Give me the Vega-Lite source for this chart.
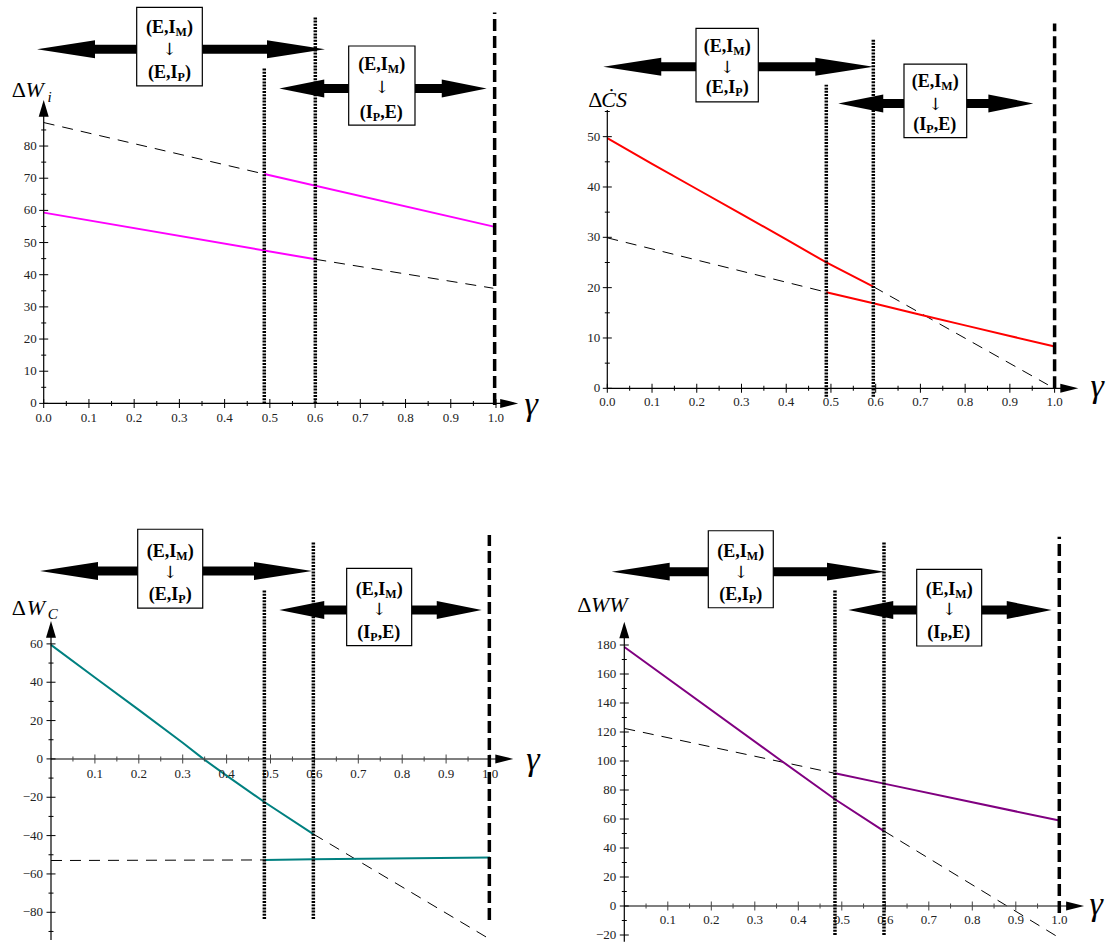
{
"$schema": "https://vega.github.io/schema/vega-lite/v6.json",
"padding": 0,
"background": "white",
"columns": 2,
"spacing": 0,
"bounds": "flush",
"config": {"view": {"stroke": null}},
"datasets": {
"p1": [
{"part":"curve","branch":"A","regime":"hypothetical","g":0,"v":87.3},
{"part":"curve","branch":"A","regime":"hypothetical","g":0.4877,"v":71.3},
{"part":"curve","branch":"A","regime":"equilibrium","g":0.4877,"v":71.3},
{"part":"curve","branch":"A","regime":"equilibrium","g":1.0,"v":54.8},
{"part":"curve","branch":"B","regime":"equilibrium","g":0,"v":59.3},
{"part":"curve","branch":"B","regime":"equilibrium","g":0.6005,"v":44.8},
{"part":"curve","branch":"B","regime":"hypothetical","g":0.6005,"v":44.8},
{"part":"curve","branch":"B","regime":"hypothetical","g":0.994,"v":35.8},
{"part":"threshold","kind":"dotted","g":0.4877,"v":0,"v2":104.2},
{"part":"threshold","kind":"dotted","g":0.6005,"v":0,"v2":120.0},
{"part":"threshold","kind":"dashed","g":0.997,"v":-0.5,"v2":121.5},
{"part":"xaxis","g":0,"g2":1.04,"v":0},
{"part":"yaxis","g":0,"v":0,"v2":93},
{"part":"head","head":"XA","g":1.049,"v":0},
{"part":"head","head":"YA","g":0,"v":94.3},
{"part":"head","head":"UL","g":-0.0148,"v":110.1},
{"part":"head","head":"UR","g":0.6219,"v":110.1},
{"part":"head","head":"LL","g":0.5209,"v":97.9},
{"part":"head","head":"LR","g":0.9794,"v":97.9},
{"part":"shaft","g":0.0814,"g2":0.5258,"v":110.1},
{"part":"shaft","g":0.596,"g2":0.9043,"v":97.9},
{"part":"box","g":0.2056,"g2":0.3507,"v":123.1,"v2":98.7},
{"part":"box","g":0.6743,"g2":0.8209,"v":111.1,"v2":86.5},
{"part":"boxline","g":0.2914,"v":116.6,"pre":"(E,I","sub":"M","post":")"},
{"part":"boxline","g":0.2958,"v":102.6,"pre":"(E,I","sub":"P","post":")"},
{"part":"boxline","g":0.7609,"v":105.2,"pre":"(E,I","sub":"M","post":")"},
{"part":"boxline","g":0.7277,"v":90.2,"pre":"(I","sub":"P","post":",E)"},
{"part":"boxarrow","g":0.2781,"v":109.9},
{"part":"boxarrow","g":0.7476,"v":97.9},
{"part":"ylab","role":"delta","t":"Δ","g":-0.0708,"v":97.4},
{"part":"ylab","role":"main","t":"W","g":-0.0405,"v":97.4},
{"part":"ylab","role":"sub","t":"i","g":0.0085,"v":95.4},
{"part":"gamma","t":"γ","g":1.078,"v":-0.5},
{"part":"xt","g":0,"v":0,"m":1},{"part":"xt","g":0.1,"v":0,"m":1},{"part":"xt","g":0.2,"v":0,"m":1},{"part":"xt","g":0.3,"v":0,"m":1},{"part":"xt","g":0.4,"v":0,"m":1},{"part":"xt","g":0.5,"v":0,"m":1},{"part":"xt","g":0.6,"v":0,"m":1},{"part":"xt","g":0.7,"v":0,"m":1},{"part":"xt","g":0.8,"v":0,"m":1},{"part":"xt","g":0.9,"v":0,"m":1},{"part":"xt","g":1.0,"v":0,"m":1},
{"part":"xt","g":0.05,"v":0,"m":0},{"part":"xt","g":0.15,"v":0,"m":0},{"part":"xt","g":0.25,"v":0,"m":0},{"part":"xt","g":0.35,"v":0,"m":0},{"part":"xt","g":0.45,"v":0,"m":0},{"part":"xt","g":0.55,"v":0,"m":0},{"part":"xt","g":0.65,"v":0,"m":0},{"part":"xt","g":0.75,"v":0,"m":0},{"part":"xt","g":0.85,"v":0,"m":0},{"part":"xt","g":0.95,"v":0,"m":0},
{"part":"yt","g":0,"v":0,"m":1},{"part":"yt","g":0,"v":10,"m":1},{"part":"yt","g":0,"v":20,"m":1},{"part":"yt","g":0,"v":30,"m":1},{"part":"yt","g":0,"v":40,"m":1},{"part":"yt","g":0,"v":50,"m":1},{"part":"yt","g":0,"v":60,"m":1},{"part":"yt","g":0,"v":70,"m":1},{"part":"yt","g":0,"v":80,"m":1},
{"part":"yt","g":0,"v":5,"m":0},{"part":"yt","g":0,"v":15,"m":0},{"part":"yt","g":0,"v":25,"m":0},{"part":"yt","g":0,"v":35,"m":0},{"part":"yt","g":0,"v":45,"m":0},{"part":"yt","g":0,"v":55,"m":0},{"part":"yt","g":0,"v":65,"m":0},{"part":"yt","g":0,"v":75,"m":0},{"part":"yt","g":0,"v":85,"m":0}
],
"p2": [
{"part":"curve","branch":"A","regime":"equilibrium","g":0,"v":49.7},
{"part":"curve","branch":"A","regime":"equilibrium","g":0.1,"v":44.6},
{"part":"curve","branch":"A","regime":"equilibrium","g":0.2,"v":39.6},
{"part":"curve","branch":"A","regime":"equilibrium","g":0.3,"v":34.6},
{"part":"curve","branch":"A","regime":"equilibrium","g":0.4,"v":29.6},
{"part":"curve","branch":"A","regime":"equilibrium","g":0.4896,"v":25.0},
{"part":"curve","branch":"A","regime":"equilibrium","g":0.5947,"v":20.2},
{"part":"curve","branch":"A","regime":"hypothetical","g":0.5947,"v":20.2},
{"part":"curve","branch":"A","regime":"hypothetical","g":0.985,"v":0.7},
{"part":"curve","branch":"B","regime":"hypothetical","g":0,"v":29.9},
{"part":"curve","branch":"B","regime":"hypothetical","g":0.4896,"v":19.1},
{"part":"curve","branch":"B","regime":"equilibrium","g":0.4896,"v":19.1},
{"part":"curve","branch":"B","regime":"equilibrium","g":0.5947,"v":16.9},
{"part":"curve","branch":"B","regime":"equilibrium","g":0.7,"v":14.6},
{"part":"curve","branch":"B","regime":"equilibrium","g":0.8,"v":12.5},
{"part":"curve","branch":"B","regime":"equilibrium","g":0.9,"v":10.4},
{"part":"curve","branch":"B","regime":"equilibrium","g":1.0,"v":8.3},
{"part":"threshold","kind":"dotted","g":0.4896,"v":-1.7,"v2":60.3},
{"part":"threshold","kind":"dotted","g":0.5947,"v":-1.7,"v2":69.5},
{"part":"threshold","kind":"dashed","g":1.0,"v":0,"v2":72.5},
{"part":"xaxis","g":0,"g2":1.044,"v":0},
{"part":"yaxis","g":0,"v":0,"v2":55.3},
{"part":"head","head":"XA","g":1.053,"v":0},
{"part":"head","head":"UL","g":-0.009,"v":63.9},
{"part":"head","head":"UR","g":0.5947,"v":63.9},
{"part":"head","head":"LL","g":0.5164,"v":56.6},
{"part":"head","head":"LR","g":0.9524,"v":56.6},
{"part":"shaft","g":0.0883,"g2":0.4974,"v":63.9},
{"part":"shaft","g":0.5924,"g2":0.8764,"v":56.6},
{"part":"box","g":0.1983,"g2":0.3376,"v":71.5,"v2":56.9},
{"part":"box","g":0.6633,"g2":0.8035,"v":64.4,"v2":49.8},
{"part":"boxline","g":0.2814,"v":67.9,"pre":"(E,I","sub":"M","post":")"},
{"part":"boxline","g":0.2859,"v":59.6,"pre":"(E,I","sub":"P","post":")"},
{"part":"boxline","g":0.7468,"v":60.9,"pre":"(E,I","sub":"M","post":")"},
{"part":"boxline","g":0.7133,"v":52.3,"pre":"(I","sub":"P","post":",E)"},
{"part":"boxarrow","g":0.268,"v":63.6},
{"part":"boxarrow","g":0.7334,"v":56.3},
{"part":"ylab","role":"delta","t":"Δ","g":-0.0425,"v":57.3},
{"part":"ylab","role":"main","t":"ĊS","g":-0.0135,"v":57.3},
{"part":"gamma","t":"γ","g":1.095,"v":0.3},
{"part":"xt","g":0,"v":0,"m":1},{"part":"xt","g":0.1,"v":0,"m":1},{"part":"xt","g":0.2,"v":0,"m":1},{"part":"xt","g":0.3,"v":0,"m":1},{"part":"xt","g":0.4,"v":0,"m":1},{"part":"xt","g":0.5,"v":0,"m":1},{"part":"xt","g":0.6,"v":0,"m":1},{"part":"xt","g":0.7,"v":0,"m":1},{"part":"xt","g":0.8,"v":0,"m":1},{"part":"xt","g":0.9,"v":0,"m":1},{"part":"xt","g":1.0,"v":0,"m":1},
{"part":"xt","g":0.05,"v":0,"m":0},{"part":"xt","g":0.15,"v":0,"m":0},{"part":"xt","g":0.25,"v":0,"m":0},{"part":"xt","g":0.35,"v":0,"m":0},{"part":"xt","g":0.45,"v":0,"m":0},{"part":"xt","g":0.55,"v":0,"m":0},{"part":"xt","g":0.65,"v":0,"m":0},{"part":"xt","g":0.75,"v":0,"m":0},{"part":"xt","g":0.85,"v":0,"m":0},{"part":"xt","g":0.95,"v":0,"m":0},
{"part":"yt","g":0,"v":0,"m":1},{"part":"yt","g":0,"v":10,"m":1},{"part":"yt","g":0,"v":20,"m":1},{"part":"yt","g":0,"v":30,"m":1},{"part":"yt","g":0,"v":40,"m":1},{"part":"yt","g":0,"v":50,"m":1},
{"part":"yt","g":0,"v":5,"m":0},{"part":"yt","g":0,"v":15,"m":0},{"part":"yt","g":0,"v":25,"m":0},{"part":"yt","g":0,"v":35,"m":0},{"part":"yt","g":0,"v":45,"m":0},{"part":"yt","g":0,"v":55,"m":0}
],
"p3": [
{"part":"curve","branch":"A","regime":"equilibrium","g":0,"v":59.5},
{"part":"curve","branch":"A","regime":"equilibrium","g":0.1,"v":42.5},
{"part":"curve","branch":"A","regime":"equilibrium","g":0.2,"v":25.6},
{"part":"curve","branch":"A","regime":"equilibrium","g":0.3,"v":8.4},
{"part":"curve","branch":"A","regime":"equilibrium","g":0.347,"v":0},
{"part":"curve","branch":"A","regime":"equilibrium","g":0.4,"v":-8.7},
{"part":"curve","branch":"A","regime":"equilibrium","g":0.486,"v":-22.5},
{"part":"curve","branch":"A","regime":"equilibrium","g":0.5976,"v":-39.2},
{"part":"curve","branch":"A","regime":"hypothetical","g":0.5976,"v":-39.2},
{"part":"curve","branch":"A","regime":"hypothetical","g":1.003,"v":-94.5},
{"part":"curve","branch":"B","regime":"hypothetical","g":0,"v":-53.0},
{"part":"curve","branch":"B","regime":"hypothetical","g":0.486,"v":-52.7},
{"part":"curve","branch":"B","regime":"equilibrium","g":0.486,"v":-52.7},
{"part":"curve","branch":"B","regime":"equilibrium","g":0.5976,"v":-52.3},
{"part":"curve","branch":"B","regime":"equilibrium","g":1.0,"v":-51.4},
{"part":"threshold","kind":"dotted","g":0.486,"v":-83.5,"v2":88.1},
{"part":"threshold","kind":"dotted","g":0.5976,"v":-83.5,"v2":113.1},
{"part":"threshold","kind":"dashed","g":0.9985,"v":-84,"v2":116.8},
{"part":"xaxis","g":0,"g2":1.044,"v":0},
{"part":"yaxis","g":0,"v":-94.5,"v2":70},
{"part":"head","head":"XA","g":1.053,"v":0},
{"part":"head","head":"YA","g":0,"v":71.9},
{"part":"head","head":"UL","g":-0.0251,"v":98.0},
{"part":"head","head":"UR","g":0.5945,"v":98.0},
{"part":"head","head":"LL","g":0.5201,"v":77.7},
{"part":"head","head":"LR","g":0.9811,"v":77.7},
{"part":"shaft","g":0.074,"g2":0.4954,"v":98.0},
{"part":"shaft","g":0.5975,"g2":0.9036,"v":77.7},
{"part":"box","g":0.1975,"g2":0.3456,"v":119.8,"v2":78.6},
{"part":"box","g":0.6735,"g2":0.8216,"v":99.4,"v2":59.1},
{"part":"boxline","g":0.2852,"v":108.1,"pre":"(E,I","sub":"M","post":")"},
{"part":"boxline","g":0.2897,"v":85.5,"pre":"(E,I","sub":"P","post":")"},
{"part":"boxline","g":0.7613,"v":88.1,"pre":"(E,I","sub":"M","post":")"},
{"part":"boxline","g":0.7271,"v":65.5,"pre":"(I","sub":"P","post":",E)"},
{"part":"boxarrow","g":0.2715,"v":96.8},
{"part":"boxarrow","g":0.7476,"v":77.7},
{"part":"ylab","role":"delta","t":"Δ","g":-0.0895,"v":78.6},
{"part":"ylab","role":"main","t":"W","g":-0.0555,"v":78.6},
{"part":"ylab","role":"sub","t":"C","g":-0.0075,"v":75.4},
{"part":"gamma","t":"γ","g":1.098,"v":-0.6},
{"part":"xt","g":0.1,"v":0,"m":1},{"part":"xt","g":0.2,"v":0,"m":1},{"part":"xt","g":0.3,"v":0,"m":1},{"part":"xt","g":0.4,"v":0,"m":1},{"part":"xt","g":0.5,"v":0,"m":1},{"part":"xt","g":0.6,"v":0,"m":1},{"part":"xt","g":0.7,"v":0,"m":1},{"part":"xt","g":0.8,"v":0,"m":1},{"part":"xt","g":0.9,"v":0,"m":1},{"part":"xt","g":1.0,"v":0,"m":1},
{"part":"xt","g":0.05,"v":0,"m":0},{"part":"xt","g":0.15,"v":0,"m":0},{"part":"xt","g":0.25,"v":0,"m":0},{"part":"xt","g":0.35,"v":0,"m":0},{"part":"xt","g":0.45,"v":0,"m":0},{"part":"xt","g":0.55,"v":0,"m":0},{"part":"xt","g":0.65,"v":0,"m":0},{"part":"xt","g":0.75,"v":0,"m":0},{"part":"xt","g":0.85,"v":0,"m":0},{"part":"xt","g":0.95,"v":0,"m":0},
{"part":"yt","g":0,"v":-80,"m":1},{"part":"yt","g":0,"v":-60,"m":1},{"part":"yt","g":0,"v":-40,"m":1},{"part":"yt","g":0,"v":-20,"m":1},{"part":"yt","g":0,"v":0,"m":1},{"part":"yt","g":0,"v":20,"m":1},{"part":"yt","g":0,"v":40,"m":1},{"part":"yt","g":0,"v":60,"m":1},
{"part":"yt","g":0,"v":-90,"m":0},{"part":"yt","g":0,"v":-70,"m":0},{"part":"yt","g":0,"v":-50,"m":0},{"part":"yt","g":0,"v":-30,"m":0},{"part":"yt","g":0,"v":-10,"m":0},{"part":"yt","g":0,"v":10,"m":0},{"part":"yt","g":0,"v":30,"m":0},{"part":"yt","g":0,"v":50,"m":0}
],
"p4": [
{"part":"curve","branch":"A","regime":"equilibrium","g":0,"v":178.6},
{"part":"curve","branch":"A","regime":"equilibrium","g":0.3617,"v":100},
{"part":"curve","branch":"A","regime":"equilibrium","g":0.4843,"v":73.6},
{"part":"curve","branch":"A","regime":"equilibrium","g":0.597,"v":51.7},
{"part":"curve","branch":"A","regime":"hypothetical","g":0.597,"v":51.7},
{"part":"curve","branch":"A","regime":"hypothetical","g":1.003,"v":-22.5},
{"part":"curve","branch":"B","regime":"hypothetical","g":0,"v":122.5},
{"part":"curve","branch":"B","regime":"hypothetical","g":0.4843,"v":91.5},
{"part":"curve","branch":"B","regime":"equilibrium","g":0.4843,"v":91.5},
{"part":"curve","branch":"B","regime":"equilibrium","g":0.597,"v":84.4},
{"part":"curve","branch":"B","regime":"equilibrium","g":1.0,"v":58.9},
{"part":"threshold","kind":"dotted","g":0.4843,"v":-20,"v2":217.9},
{"part":"threshold","kind":"dotted","g":0.597,"v":-20,"v2":251.2},
{"part":"threshold","kind":"dashed","g":1.0,"v":-4.8,"v2":254.7},
{"part":"xaxis","g":0,"g2":1.048,"v":0},
{"part":"yaxis","g":0,"v":-24.6,"v2":194},
{"part":"head","head":"XA","g":1.057,"v":0},
{"part":"head","head":"YA","g":0,"v":196.1},
{"part":"head","head":"UL","g":-0.029,"v":230.6},
{"part":"head","head":"UR","g":0.5993,"v":230.6},
{"part":"head","head":"LL","g":0.5149,"v":204.1},
{"part":"head","head":"LR","g":0.9825,"v":204.1},
{"part":"shaft","g":0.071,"g2":0.4993,"v":230.6},
{"part":"shaft","g":0.5931,"g2":0.9044,"v":204.1},
{"part":"box","g":0.1931,"g2":0.3425,"v":258.8,"v2":205.7},
{"part":"box","g":0.6722,"g2":0.8216,"v":232.2,"v2":179.3},
{"part":"boxline","g":0.2816,"v":244.4,"pre":"(E,I","sub":"M","post":")"},
{"part":"boxline","g":0.2862,"v":214.5,"pre":"(E,I","sub":"P","post":")"},
{"part":"boxline","g":0.7607,"v":217.9,"pre":"(E,I","sub":"M","post":")"},
{"part":"boxline","g":0.7262,"v":188.1,"pre":"(I","sub":"P","post":",E)"},
{"part":"boxarrow","g":0.2678,"v":229.4},
{"part":"boxarrow","g":0.7469,"v":204.1},
{"part":"ylab","role":"delta","t":"Δ","g":-0.108,"v":207.6},
{"part":"ylab","role":"main","t":"WW","g":-0.0765,"v":207.6},
{"part":"gamma","t":"γ","g":1.085,"v":0.5},
{"part":"xt","g":0.1,"v":0,"m":1},{"part":"xt","g":0.2,"v":0,"m":1},{"part":"xt","g":0.3,"v":0,"m":1},{"part":"xt","g":0.4,"v":0,"m":1},{"part":"xt","g":0.5,"v":0,"m":1},{"part":"xt","g":0.6,"v":0,"m":1},{"part":"xt","g":0.7,"v":0,"m":1},{"part":"xt","g":0.8,"v":0,"m":1},{"part":"xt","g":0.9,"v":0,"m":1},{"part":"xt","g":1.0,"v":0,"m":1},
{"part":"xt","g":0.05,"v":0,"m":0},{"part":"xt","g":0.15,"v":0,"m":0},{"part":"xt","g":0.25,"v":0,"m":0},{"part":"xt","g":0.35,"v":0,"m":0},{"part":"xt","g":0.45,"v":0,"m":0},{"part":"xt","g":0.55,"v":0,"m":0},{"part":"xt","g":0.65,"v":0,"m":0},{"part":"xt","g":0.75,"v":0,"m":0},{"part":"xt","g":0.85,"v":0,"m":0},{"part":"xt","g":0.95,"v":0,"m":0},
{"part":"yt","g":0,"v":-20,"m":1},{"part":"yt","g":0,"v":0,"m":1},{"part":"yt","g":0,"v":20,"m":1},{"part":"yt","g":0,"v":40,"m":1},{"part":"yt","g":0,"v":60,"m":1},{"part":"yt","g":0,"v":80,"m":1},{"part":"yt","g":0,"v":100,"m":1},{"part":"yt","g":0,"v":120,"m":1},{"part":"yt","g":0,"v":140,"m":1},{"part":"yt","g":0,"v":160,"m":1},{"part":"yt","g":0,"v":180,"m":1},
{"part":"yt","g":0,"v":-10,"m":0},{"part":"yt","g":0,"v":10,"m":0},{"part":"yt","g":0,"v":30,"m":0},{"part":"yt","g":0,"v":50,"m":0},{"part":"yt","g":0,"v":70,"m":0},{"part":"yt","g":0,"v":90,"m":0},{"part":"yt","g":0,"v":110,"m":0},{"part":"yt","g":0,"v":130,"m":0},{"part":"yt","g":0,"v":150,"m":0},{"part":"yt","g":0,"v":170,"m":0}
]
},
"concat": [
{
"width": 555, "height": 470,
"data": {"name": "p1"},
"encoding": {
"x": {"field": "g", "type": "quantitative", "scale": {"domain": [-0.09662, 1.13045], "nice": false, "zero": false}, "axis": null},
"y": {"field": "v", "type": "quantitative", "scale": {"domain": [-20.71, 125.4], "nice": false, "zero": false}, "axis": null}
},
"layer": [
{"transform": [{"filter": "datum.part=='curve' && datum.regime=='hypothetical'"}], "mark": {"type": "line", "color": "black", "strokeWidth": 1, "strokeDash": [11, 8]}, "encoding": {"detail": {"field": "branch"}}},
{"transform": [{"filter": "datum.part=='curve' && datum.regime=='equilibrium'"}], "mark": {"type": "line", "color": "#ff00ff", "strokeWidth": 2}, "encoding": {"detail": {"field": "branch"}}},
{"transform": [{"filter": "datum.part=='xaxis'"}], "mark": {"type": "rule", "color": "black", "strokeWidth": 1.2}, "encoding": {"x2": {"field": "g2"}}},
{"transform": [{"filter": "datum.part=='yaxis'"}], "mark": {"type": "rule", "color": "black", "strokeWidth": 1.2}, "encoding": {"y2": {"field": "v2"}}},
{"transform": [{"filter": "datum.part=='xt' && datum.m==1"}], "mark": {"type": "tick", "orient": "vertical", "size": 9, "thickness": 1, "color": "black", "opacity": 1}},
{"transform": [{"filter": "datum.part=='xt' && datum.m==0"}], "mark": {"type": "tick", "orient": "vertical", "size": 5, "thickness": 1, "color": "black", "opacity": 1}},
{"transform": [{"filter": "datum.part=='yt' && datum.m==1"}], "mark": {"type": "tick", "orient": "horizontal", "size": 9, "thickness": 1, "color": "black", "opacity": 1}},
{"transform": [{"filter": "datum.part=='yt' && datum.m==0"}], "mark": {"type": "tick", "orient": "horizontal", "size": 5, "thickness": 1, "color": "black", "opacity": 1}},
{"transform": [{"filter": "datum.part=='xt' && datum.m==1"}], "mark": {"type": "text", "font": "Liberation Serif, DejaVu Serif, serif", "fontSize": 13, "color": "#222", "align": "center", "baseline": "middle", "dy": 15}, "encoding": {"text": {"field": "g", "type": "quantitative", "format": ".1f"}}},
{"transform": [{"filter": "datum.part=='yt' && datum.m==1"}], "mark": {"type": "text", "font": "Liberation Serif, DejaVu Serif, serif", "fontSize": 13, "color": "#222", "align": "right", "baseline": "middle", "dx": -7}, "encoding": {"text": {"field": "v", "type": "quantitative", "format": "d"}}},
{"transform": [{"filter": "datum.part=='shaft'"}], "mark": {"type": "rule", "color": "black", "strokeWidth": 9}, "encoding": {"x2": {"field": "g2"}}},
{"transform": [{"filter": "datum.part=='head'"}], "mark": {"type": "point", "filled": true, "color": "black", "opacity": 1, "size": 3364, "strokeWidth": 0}, "encoding": {"shape": {"field": "head", "type": "nominal", "legend": null, "scale": {"domain": ["UL", "UR", "LL", "LR", "XA", "YA"], "range": ["M0,0L2,-0.31L2,0.31Z", "M0,0L-2,-0.31L-2,0.31Z", "M0,0L1.55,-0.31L1.55,0.31Z", "M0,0L-1.55,-0.31L-1.55,0.31Z", "M0,0L-0.62,-0.155L-0.62,0.155Z", "M0,0L-0.172,0.576L0.172,0.576Z"]}}}},
{"transform": [{"filter": "datum.part=='box'"}], "mark": {"type": "rect", "fill": "white", "stroke": "black", "strokeWidth": 1.2}, "encoding": {"x2": {"field": "g2"}, "y2": {"field": "v2"}}},
{"transform": [{"filter": "datum.part=='boxline'"}], "mark": {"type": "text", "font": "Liberation Serif, DejaVu Serif, serif", "fontWeight": "bold", "fontSize": 18, "color": "black", "align": "right", "baseline": "middle"}, "encoding": {"text": {"field": "pre"}}},
{"transform": [{"filter": "datum.part=='boxline'"}], "mark": {"type": "text", "font": "Liberation Serif, DejaVu Serif, serif", "fontWeight": "bold", "fontSize": 12, "color": "black", "align": "left", "baseline": "middle", "dy": 4}, "encoding": {"text": {"field": "sub"}}},
{"transform": [{"filter": "datum.part=='boxline' && datum.sub=='M'"}], "mark": {"type": "text", "font": "Liberation Serif, DejaVu Serif, serif", "fontWeight": "bold", "fontSize": 18, "color": "black", "align": "left", "baseline": "middle", "dx": 11.5}, "encoding": {"text": {"field": "post"}}},
{"transform": [{"filter": "datum.part=='boxline' && datum.sub=='P'"}], "mark": {"type": "text", "font": "Liberation Serif, DejaVu Serif, serif", "fontWeight": "bold", "fontSize": 18, "color": "black", "align": "left", "baseline": "middle", "dx": 7.5}, "encoding": {"text": {"field": "post"}}},
{"transform": [{"filter": "datum.part=='boxarrow'"}], "mark": {"type": "text", "text": "↓", "font": "DejaVu Serif", "fontSize": 17, "color": "black", "align": "center", "baseline": "middle"}},
{"transform": [{"filter": "datum.part=='threshold' && datum.kind=='dotted'"}], "mark": {"type": "rule", "color": "black", "strokeWidth": 3.5, "strokeDash": [2, 1.2]}, "encoding": {"y2": {"field": "v2"}}},
{"transform": [{"filter": "datum.part=='threshold' && datum.kind=='dashed'"}], "mark": {"type": "rule", "color": "black", "strokeWidth": 3.5, "strokeDash": [12, 5]}, "encoding": {"y2": {"field": "v2"}}},
{"transform": [{"filter": "datum.part=='ylab' && datum.role=='delta'"}], "mark": {"type": "text", "font": "Liberation Serif, DejaVu Serif, serif", "fontSize": 22, "color": "black", "align": "left", "baseline": "middle"}, "encoding": {"text": {"field": "t"}}},
{"transform": [{"filter": "datum.part=='ylab' && datum.role=='main'"}], "mark": {"type": "text", "font": "Liberation Serif, DejaVu Serif, serif", "fontStyle": "italic", "fontSize": 22, "color": "black", "align": "left", "baseline": "middle"}, "encoding": {"text": {"field": "t"}}},
{"transform": [{"filter": "datum.part=='ylab' && datum.role=='sub'"}], "mark": {"type": "text", "font": "Liberation Serif, DejaVu Serif, serif", "fontStyle": "italic", "fontSize": 15, "color": "black", "align": "left", "baseline": "middle"}, "encoding": {"text": {"field": "t"}}},
{"transform": [{"filter": "datum.part=='gamma'"}], "mark": {"type": "text", "font": "Liberation Serif, DejaVu Serif, serif", "fontStyle": "italic", "fontSize": 34, "color": "black", "align": "center", "baseline": "middle"}, "encoding": {"text": {"field": "t"}}}
]
},
{
"width": 556, "height": 470,
"data": {"name": "p2"},
"encoding": {
"x": {"field": "g", "type": "quantitative", "scale": {"domain": [-0.11692, 1.12609], "nice": false, "zero": false}, "axis": null},
"y": {"field": "v", "type": "quantitative", "scale": {"domain": [-16.23, 77.15], "nice": false, "zero": false}, "axis": null}
},
"layer": [
{"transform": [{"filter": "datum.part=='curve' && datum.regime=='hypothetical'"}], "mark": {"type": "line", "color": "black", "strokeWidth": 1, "strokeDash": [11, 8]}, "encoding": {"detail": {"field": "branch"}}},
{"transform": [{"filter": "datum.part=='curve' && datum.regime=='equilibrium'"}], "mark": {"type": "line", "color": "#ff0000", "strokeWidth": 2}, "encoding": {"detail": {"field": "branch"}}},
{"transform": [{"filter": "datum.part=='xaxis'"}], "mark": {"type": "rule", "color": "black", "strokeWidth": 1.2}, "encoding": {"x2": {"field": "g2"}}},
{"transform": [{"filter": "datum.part=='yaxis'"}], "mark": {"type": "rule", "color": "black", "strokeWidth": 1.2}, "encoding": {"y2": {"field": "v2"}}},
{"transform": [{"filter": "datum.part=='xt' && datum.m==1"}], "mark": {"type": "tick", "orient": "vertical", "size": 9, "thickness": 1, "color": "black", "opacity": 1}},
{"transform": [{"filter": "datum.part=='xt' && datum.m==0"}], "mark": {"type": "tick", "orient": "vertical", "size": 5, "thickness": 1, "color": "black", "opacity": 1}},
{"transform": [{"filter": "datum.part=='yt' && datum.m==1"}], "mark": {"type": "tick", "orient": "horizontal", "size": 9, "thickness": 1, "color": "black", "opacity": 1}},
{"transform": [{"filter": "datum.part=='yt' && datum.m==0"}], "mark": {"type": "tick", "orient": "horizontal", "size": 5, "thickness": 1, "color": "black", "opacity": 1}},
{"transform": [{"filter": "datum.part=='xt' && datum.m==1"}], "mark": {"type": "text", "font": "Liberation Serif, DejaVu Serif, serif", "fontSize": 13, "color": "#222", "align": "center", "baseline": "middle", "dy": 14}, "encoding": {"text": {"field": "g", "type": "quantitative", "format": ".1f"}}},
{"transform": [{"filter": "datum.part=='yt' && datum.m==1"}], "mark": {"type": "text", "font": "Liberation Serif, DejaVu Serif, serif", "fontSize": 13, "color": "#222", "align": "right", "baseline": "middle", "dx": -7}, "encoding": {"text": {"field": "v", "type": "quantitative", "format": "d"}}},
{"transform": [{"filter": "datum.part=='shaft'"}], "mark": {"type": "rule", "color": "black", "strokeWidth": 9}, "encoding": {"x2": {"field": "g2"}}},
{"transform": [{"filter": "datum.part=='head'"}], "mark": {"type": "point", "filled": true, "color": "black", "opacity": 1, "size": 3364, "strokeWidth": 0}, "encoding": {"shape": {"field": "head", "type": "nominal", "legend": null, "scale": {"domain": ["UL", "UR", "LL", "LR", "XA", "YA"], "range": ["M0,0L2,-0.31L2,0.31Z", "M0,0L-2,-0.31L-2,0.31Z", "M0,0L1.55,-0.31L1.55,0.31Z", "M0,0L-1.55,-0.31L-1.55,0.31Z", "M0,0L-0.62,-0.155L-0.62,0.155Z", "M0,0L-0.172,0.576L0.172,0.576Z"]}}}},
{"transform": [{"filter": "datum.part=='box'"}], "mark": {"type": "rect", "fill": "white", "stroke": "black", "strokeWidth": 1.2}, "encoding": {"x2": {"field": "g2"}, "y2": {"field": "v2"}}},
{"transform": [{"filter": "datum.part=='boxline'"}], "mark": {"type": "text", "font": "Liberation Serif, DejaVu Serif, serif", "fontWeight": "bold", "fontSize": 18, "color": "black", "align": "right", "baseline": "middle"}, "encoding": {"text": {"field": "pre"}}},
{"transform": [{"filter": "datum.part=='boxline'"}], "mark": {"type": "text", "font": "Liberation Serif, DejaVu Serif, serif", "fontWeight": "bold", "fontSize": 12, "color": "black", "align": "left", "baseline": "middle", "dy": 4}, "encoding": {"text": {"field": "sub"}}},
{"transform": [{"filter": "datum.part=='boxline' && datum.sub=='M'"}], "mark": {"type": "text", "font": "Liberation Serif, DejaVu Serif, serif", "fontWeight": "bold", "fontSize": 18, "color": "black", "align": "left", "baseline": "middle", "dx": 11.5}, "encoding": {"text": {"field": "post"}}},
{"transform": [{"filter": "datum.part=='boxline' && datum.sub=='P'"}], "mark": {"type": "text", "font": "Liberation Serif, DejaVu Serif, serif", "fontWeight": "bold", "fontSize": 18, "color": "black", "align": "left", "baseline": "middle", "dx": 7.5}, "encoding": {"text": {"field": "post"}}},
{"transform": [{"filter": "datum.part=='boxarrow'"}], "mark": {"type": "text", "text": "↓", "font": "DejaVu Serif", "fontSize": 17, "color": "black", "align": "center", "baseline": "middle"}},
{"transform": [{"filter": "datum.part=='threshold' && datum.kind=='dotted'"}], "mark": {"type": "rule", "color": "black", "strokeWidth": 3.5, "strokeDash": [2, 1.2]}, "encoding": {"y2": {"field": "v2"}}},
{"transform": [{"filter": "datum.part=='threshold' && datum.kind=='dashed'"}], "mark": {"type": "rule", "color": "black", "strokeWidth": 3.5, "strokeDash": [12, 5]}, "encoding": {"y2": {"field": "v2"}}},
{"transform": [{"filter": "datum.part=='ylab' && datum.role=='delta'"}], "mark": {"type": "text", "font": "Liberation Serif, DejaVu Serif, serif", "fontSize": 22, "color": "black", "align": "left", "baseline": "middle"}, "encoding": {"text": {"field": "t"}}},
{"transform": [{"filter": "datum.part=='ylab' && datum.role=='main'"}], "mark": {"type": "text", "font": "Liberation Serif, DejaVu Serif, serif", "fontStyle": "italic", "fontSize": 22, "color": "black", "align": "left", "baseline": "middle"}, "encoding": {"text": {"field": "t"}}},
{"transform": [{"filter": "datum.part=='gamma'"}], "mark": {"type": "text", "font": "Liberation Serif, DejaVu Serif, serif", "fontStyle": "italic", "fontSize": 34, "color": "black", "align": "center", "baseline": "middle"}, "encoding": {"text": {"field": "t"}}}
]
},
{
"width": 555, "height": 481,
"data": {"name": "p3"},
"encoding": {
"x": {"field": "g", "type": "quantitative", "scale": {"domain": [-0.11617, 1.14806], "nice": false, "zero": false}, "axis": null},
"y": {"field": "v", "type": "quantitative", "scale": {"domain": [-100.2, 150.7], "nice": false, "zero": false}, "axis": null}
},
"layer": [
{"transform": [{"filter": "datum.part=='curve' && datum.regime=='hypothetical'"}], "mark": {"type": "line", "color": "black", "strokeWidth": 1, "strokeDash": [11, 8]}, "encoding": {"detail": {"field": "branch"}}},
{"transform": [{"filter": "datum.part=='curve' && datum.regime=='equilibrium'"}], "mark": {"type": "line", "color": "#008080", "strokeWidth": 2}, "encoding": {"detail": {"field": "branch"}}},
{"transform": [{"filter": "datum.part=='xaxis'"}], "mark": {"type": "rule", "color": "#555555", "strokeWidth": 1.5}, "encoding": {"x2": {"field": "g2"}}},
{"transform": [{"filter": "datum.part=='yaxis'"}], "mark": {"type": "rule", "color": "black", "strokeWidth": 1.2}, "encoding": {"y2": {"field": "v2"}}},
{"transform": [{"filter": "datum.part=='xt' && datum.m==1"}], "mark": {"type": "tick", "orient": "vertical", "size": 9, "thickness": 1, "color": "#444444", "opacity": 1}},
{"transform": [{"filter": "datum.part=='xt' && datum.m==0"}], "mark": {"type": "tick", "orient": "vertical", "size": 5, "thickness": 1, "color": "#444444", "opacity": 1}},
{"transform": [{"filter": "datum.part=='yt' && datum.m==1"}], "mark": {"type": "tick", "orient": "horizontal", "size": 9, "thickness": 1, "color": "black", "opacity": 1}},
{"transform": [{"filter": "datum.part=='yt' && datum.m==0"}], "mark": {"type": "tick", "orient": "horizontal", "size": 5, "thickness": 1, "color": "black", "opacity": 1}},
{"transform": [{"filter": "datum.part=='xt' && datum.m==1"}], "mark": {"type": "text", "font": "Liberation Serif, DejaVu Serif, serif", "fontSize": 13, "color": "#222", "align": "center", "baseline": "middle", "dy": 15}, "encoding": {"text": {"field": "g", "type": "quantitative", "format": ".1f"}}},
{"transform": [{"filter": "datum.part=='yt' && datum.m==1"}], "mark": {"type": "text", "font": "Liberation Serif, DejaVu Serif, serif", "fontSize": 13, "color": "#222", "align": "right", "baseline": "middle", "dx": -8}, "encoding": {"text": {"field": "v", "type": "quantitative", "format": "d"}}},
{"transform": [{"filter": "datum.part=='shaft'"}], "mark": {"type": "rule", "color": "black", "strokeWidth": 9}, "encoding": {"x2": {"field": "g2"}}},
{"transform": [{"filter": "datum.part=='head'"}], "mark": {"type": "point", "filled": true, "color": "black", "opacity": 1, "size": 3364, "strokeWidth": 0}, "encoding": {"shape": {"field": "head", "type": "nominal", "legend": null, "scale": {"domain": ["UL", "UR", "LL", "LR", "XA", "YA"], "range": ["M0,0L2,-0.31L2,0.31Z", "M0,0L-2,-0.31L-2,0.31Z", "M0,0L1.55,-0.31L1.55,0.31Z", "M0,0L-1.55,-0.31L-1.55,0.31Z", "M0,0L-0.62,-0.155L-0.62,0.155Z", "M0,0L-0.172,0.576L0.172,0.576Z"]}}}},
{"transform": [{"filter": "datum.part=='box'"}], "mark": {"type": "rect", "fill": "white", "stroke": "black", "strokeWidth": 1.2}, "encoding": {"x2": {"field": "g2"}, "y2": {"field": "v2"}}},
{"transform": [{"filter": "datum.part=='boxline'"}], "mark": {"type": "text", "font": "Liberation Serif, DejaVu Serif, serif", "fontWeight": "bold", "fontSize": 18, "color": "black", "align": "right", "baseline": "middle"}, "encoding": {"text": {"field": "pre"}}},
{"transform": [{"filter": "datum.part=='boxline'"}], "mark": {"type": "text", "font": "Liberation Serif, DejaVu Serif, serif", "fontWeight": "bold", "fontSize": 12, "color": "black", "align": "left", "baseline": "middle", "dy": 4}, "encoding": {"text": {"field": "sub"}}},
{"transform": [{"filter": "datum.part=='boxline' && datum.sub=='M'"}], "mark": {"type": "text", "font": "Liberation Serif, DejaVu Serif, serif", "fontWeight": "bold", "fontSize": 18, "color": "black", "align": "left", "baseline": "middle", "dx": 11.5}, "encoding": {"text": {"field": "post"}}},
{"transform": [{"filter": "datum.part=='boxline' && datum.sub=='P'"}], "mark": {"type": "text", "font": "Liberation Serif, DejaVu Serif, serif", "fontWeight": "bold", "fontSize": 18, "color": "black", "align": "left", "baseline": "middle", "dx": 7.5}, "encoding": {"text": {"field": "post"}}},
{"transform": [{"filter": "datum.part=='boxarrow'"}], "mark": {"type": "text", "text": "↓", "font": "DejaVu Serif", "fontSize": 17, "color": "black", "align": "center", "baseline": "middle"}},
{"transform": [{"filter": "datum.part=='threshold' && datum.kind=='dotted'"}], "mark": {"type": "rule", "color": "black", "strokeWidth": 3.5, "strokeDash": [2, 1.2]}, "encoding": {"y2": {"field": "v2"}}},
{"transform": [{"filter": "datum.part=='threshold' && datum.kind=='dashed'"}], "mark": {"type": "rule", "color": "black", "strokeWidth": 3.5, "strokeDash": [12, 5]}, "encoding": {"y2": {"field": "v2"}}},
{"transform": [{"filter": "datum.part=='ylab' && datum.role=='delta'"}], "mark": {"type": "text", "font": "Liberation Serif, DejaVu Serif, serif", "fontSize": 22, "color": "black", "align": "left", "baseline": "middle"}, "encoding": {"text": {"field": "t"}}},
{"transform": [{"filter": "datum.part=='ylab' && datum.role=='main'"}], "mark": {"type": "text", "font": "Liberation Serif, DejaVu Serif, serif", "fontStyle": "italic", "fontSize": 22, "color": "black", "align": "left", "baseline": "middle"}, "encoding": {"text": {"field": "t"}}},
{"transform": [{"filter": "datum.part=='ylab' && datum.role=='sub'"}], "mark": {"type": "text", "font": "Liberation Serif, DejaVu Serif, serif", "fontStyle": "italic", "fontSize": 15, "color": "black", "align": "left", "baseline": "middle"}, "encoding": {"text": {"field": "t"}}},
{"transform": [{"filter": "datum.part=='gamma'"}], "mark": {"type": "text", "font": "Liberation Serif, DejaVu Serif, serif", "fontStyle": "italic", "fontSize": 34, "color": "black", "align": "center", "baseline": "middle"}, "encoding": {"text": {"field": "t"}}}
]
},
{
"width": 556, "height": 481,
"data": {"name": "p4"},
"encoding": {
"x": {"field": "g", "type": "quantitative", "scale": {"domain": [-0.15931, 1.11885], "nice": false, "zero": false}, "axis": null},
"y": {"field": "v", "type": "quantitative", "scale": {"domain": [-31.03, 300.69], "nice": false, "zero": false}, "axis": null}
},
"layer": [
{"transform": [{"filter": "datum.part=='curve' && datum.regime=='hypothetical'"}], "mark": {"type": "line", "color": "black", "strokeWidth": 1, "strokeDash": [11, 8]}, "encoding": {"detail": {"field": "branch"}}},
{"transform": [{"filter": "datum.part=='curve' && datum.regime=='equilibrium'"}], "mark": {"type": "line", "color": "#800080", "strokeWidth": 2}, "encoding": {"detail": {"field": "branch"}}},
{"transform": [{"filter": "datum.part=='xaxis'"}], "mark": {"type": "rule", "color": "#555555", "strokeWidth": 1.5}, "encoding": {"x2": {"field": "g2"}}},
{"transform": [{"filter": "datum.part=='yaxis'"}], "mark": {"type": "rule", "color": "black", "strokeWidth": 1.2}, "encoding": {"y2": {"field": "v2"}}},
{"transform": [{"filter": "datum.part=='xt' && datum.m==1"}], "mark": {"type": "tick", "orient": "vertical", "size": 9, "thickness": 1, "color": "#444444", "opacity": 1}},
{"transform": [{"filter": "datum.part=='xt' && datum.m==0"}], "mark": {"type": "tick", "orient": "vertical", "size": 5, "thickness": 1, "color": "#444444", "opacity": 1}},
{"transform": [{"filter": "datum.part=='yt' && datum.m==1"}], "mark": {"type": "tick", "orient": "horizontal", "size": 9, "thickness": 1, "color": "black", "opacity": 1}},
{"transform": [{"filter": "datum.part=='yt' && datum.m==0"}], "mark": {"type": "tick", "orient": "horizontal", "size": 5, "thickness": 1, "color": "black", "opacity": 1}},
{"transform": [{"filter": "datum.part=='xt' && datum.m==1"}], "mark": {"type": "text", "font": "Liberation Serif, DejaVu Serif, serif", "fontSize": 13, "color": "#222", "align": "center", "baseline": "middle", "dy": 14}, "encoding": {"text": {"field": "g", "type": "quantitative", "format": ".1f"}}},
{"transform": [{"filter": "datum.part=='yt' && datum.m==1"}], "mark": {"type": "text", "font": "Liberation Serif, DejaVu Serif, serif", "fontSize": 13, "color": "#222", "align": "right", "baseline": "middle", "dx": -8}, "encoding": {"text": {"field": "v", "type": "quantitative", "format": "d"}}},
{"transform": [{"filter": "datum.part=='shaft'"}], "mark": {"type": "rule", "color": "black", "strokeWidth": 9}, "encoding": {"x2": {"field": "g2"}}},
{"transform": [{"filter": "datum.part=='head'"}], "mark": {"type": "point", "filled": true, "color": "black", "opacity": 1, "size": 3364, "strokeWidth": 0}, "encoding": {"shape": {"field": "head", "type": "nominal", "legend": null, "scale": {"domain": ["UL", "UR", "LL", "LR", "XA", "YA"], "range": ["M0,0L2,-0.31L2,0.31Z", "M0,0L-2,-0.31L-2,0.31Z", "M0,0L1.55,-0.31L1.55,0.31Z", "M0,0L-1.55,-0.31L-1.55,0.31Z", "M0,0L-0.62,-0.155L-0.62,0.155Z", "M0,0L-0.172,0.576L0.172,0.576Z"]}}}},
{"transform": [{"filter": "datum.part=='box'"}], "mark": {"type": "rect", "fill": "white", "stroke": "black", "strokeWidth": 1.2}, "encoding": {"x2": {"field": "g2"}, "y2": {"field": "v2"}}},
{"transform": [{"filter": "datum.part=='boxline'"}], "mark": {"type": "text", "font": "Liberation Serif, DejaVu Serif, serif", "fontWeight": "bold", "fontSize": 18, "color": "black", "align": "right", "baseline": "middle"}, "encoding": {"text": {"field": "pre"}}},
{"transform": [{"filter": "datum.part=='boxline'"}], "mark": {"type": "text", "font": "Liberation Serif, DejaVu Serif, serif", "fontWeight": "bold", "fontSize": 12, "color": "black", "align": "left", "baseline": "middle", "dy": 4}, "encoding": {"text": {"field": "sub"}}},
{"transform": [{"filter": "datum.part=='boxline' && datum.sub=='M'"}], "mark": {"type": "text", "font": "Liberation Serif, DejaVu Serif, serif", "fontWeight": "bold", "fontSize": 18, "color": "black", "align": "left", "baseline": "middle", "dx": 11.5}, "encoding": {"text": {"field": "post"}}},
{"transform": [{"filter": "datum.part=='boxline' && datum.sub=='P'"}], "mark": {"type": "text", "font": "Liberation Serif, DejaVu Serif, serif", "fontWeight": "bold", "fontSize": 18, "color": "black", "align": "left", "baseline": "middle", "dx": 7.5}, "encoding": {"text": {"field": "post"}}},
{"transform": [{"filter": "datum.part=='boxarrow'"}], "mark": {"type": "text", "text": "↓", "font": "DejaVu Serif", "fontSize": 17, "color": "black", "align": "center", "baseline": "middle"}},
{"transform": [{"filter": "datum.part=='threshold' && datum.kind=='dotted'"}], "mark": {"type": "rule", "color": "black", "strokeWidth": 3.5, "strokeDash": [2, 1.2]}, "encoding": {"y2": {"field": "v2"}}},
{"transform": [{"filter": "datum.part=='threshold' && datum.kind=='dashed'"}], "mark": {"type": "rule", "color": "black", "strokeWidth": 3.5, "strokeDash": [12, 5]}, "encoding": {"y2": {"field": "v2"}}},
{"transform": [{"filter": "datum.part=='ylab' && datum.role=='delta'"}], "mark": {"type": "text", "font": "Liberation Serif, DejaVu Serif, serif", "fontSize": 22, "color": "black", "align": "left", "baseline": "middle"}, "encoding": {"text": {"field": "t"}}},
{"transform": [{"filter": "datum.part=='ylab' && datum.role=='main'"}], "mark": {"type": "text", "font": "Liberation Serif, DejaVu Serif, serif", "fontStyle": "italic", "fontSize": 22, "color": "black", "align": "left", "baseline": "middle"}, "encoding": {"text": {"field": "t"}}},
{"transform": [{"filter": "datum.part=='gamma'"}], "mark": {"type": "text", "font": "Liberation Serif, DejaVu Serif, serif", "fontStyle": "italic", "fontSize": 34, "color": "black", "align": "center", "baseline": "middle"}, "encoding": {"text": {"field": "t"}}}
]
}
]
}
